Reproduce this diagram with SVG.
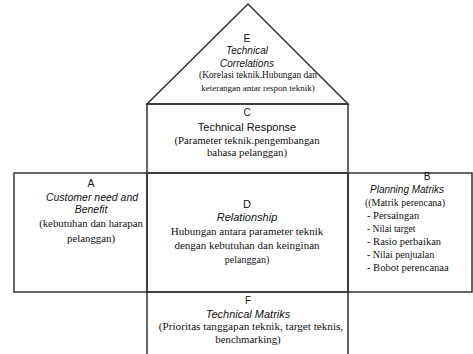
<svg xmlns="http://www.w3.org/2000/svg" width="473" height="354" viewBox="0 0 473 354">
<style>
.bd{fill:none;stroke:#333333;stroke-width:1.5}
.s{font-family:"Liberation Sans",Arial,sans-serif;fill:#111111;text-anchor:middle}
.i{font-family:"Liberation Sans",Arial,sans-serif;font-style:italic;fill:#111111;text-anchor:middle}
.t{font-family:"Liberation Serif","Times New Roman",serif;fill:#111111;text-anchor:middle}
.l{font-family:"Liberation Serif","Times New Roman",serif;fill:#111111}
</style>
<rect width="473" height="354" fill="#ffffff"/>
<g id="connectors"></g>
<g id="node-E">
<polygon class="bd" points="248,4 147,104 348,104"/>
<text class="s" x="247" y="42" font-size="10.5">E</text>
<text class="i" x="247" y="54" font-size="10">Technical</text>
<text class="i" x="247" y="67" font-size="10">Correlations</text>
<text class="t" x="258" y="78" font-size="9.4">(Korelasi teknik.Hubungan dan</text>
<text class="t" x="258" y="91" font-size="9">keterangan antar respon teknik)</text>
</g>
<g id="node-C">
<rect class="bd" x="147" y="104" width="201" height="69"/>
<text class="s" x="247" y="116" font-size="10">C</text>
<text class="s" x="247" y="131" font-size="11">Technical Response</text>
<text class="t" x="247" y="144" font-size="10.8">(Parameter teknik.pengembangan</text>
<text class="t" x="247" y="156" font-size="10.8">bahasa pelanggan)</text>
</g>
<g id="node-A">
<rect class="bd" x="14" y="173" width="133" height="119"/>
<text class="s" x="91" y="187" font-size="10.5">A</text>
<text class="i" x="92" y="201" font-size="10.5">Customer need and</text>
<text class="i" x="91" y="213" font-size="10.5">Benefit</text>
<text class="t" x="91" y="227" font-size="10.8">(kebutuhan dan harapan</text>
<text class="t" x="91" y="242" font-size="10.8">pelanggan)</text>
</g>
<g id="node-D">
<rect class="bd" x="147" y="173" width="201" height="119"/>
<text class="s" x="247" y="208" font-size="11">D</text>
<text class="i" x="247" y="221" font-size="11">Relationship</text>
<text class="t" x="247" y="235" font-size="11">Hubungan antara parameter teknik</text>
<text class="t" x="247" y="249" font-size="11">dengan kebutuhan dan keinginan</text>
<text class="t" x="247" y="263" font-size="10">pelanggan)</text>
</g>
<g id="node-B">
<rect class="bd" x="348" y="173" width="124" height="119"/>
<text class="s" x="427" y="180" font-size="10">B</text>
<text class="i" x="407" y="193" font-size="10">Planning Matriks</text>
<text class="t" x="405" y="206" font-size="10">((Matrik perencana)</text>
<text class="l" x="367" y="219" font-size="10.5">- Persaingan</text>
<text class="l" x="367" y="232" font-size="9.5">- Nilai target</text>
<text class="l" x="367" y="245" font-size="10.5">- Rasio perbaikan</text>
<text class="l" x="367" y="258" font-size="10">- Nilai penjualan</text>
<text class="l" x="367" y="271" font-size="10.5">- Bobot perencanaa</text>
</g>
<g id="node-F">
<path class="bd" d="M147,292 V354 M348,292 V354 M147,292 H348"/>
<text class="s" x="248" y="304" font-size="10">F</text>
<text class="i" x="248" y="318" font-size="11">Technical Matriks</text>
<text class="t" x="251" y="330" font-size="11.2">(Prioritas tanggapan teknik, target teknis,</text>
<text class="t" x="248" y="343" font-size="10.8">benchmarking)</text>
</g>
</svg>
